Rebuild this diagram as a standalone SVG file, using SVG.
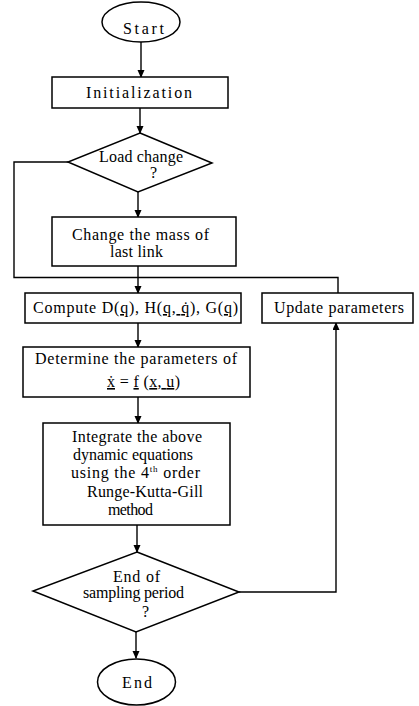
<svg xmlns="http://www.w3.org/2000/svg" width="419" height="706" viewBox="0 0 419 706">
<defs>
<marker id="ah" markerUnits="userSpaceOnUse" markerWidth="8" markerHeight="10" refX="7" refY="3.5" orient="auto">
<path d="M0,0 L8,3.5 L0,7 Z" fill="#000"/>
</marker>
<style>
.s{fill:#fff;stroke:#000;stroke-width:1.5}
.c{fill:none;stroke:#000;stroke-width:1.4}
text{font-family:"Liberation Serif","Times New Roman",serif;font-size:16px;fill:#000}
.u{text-decoration:underline}
</style>
</defs>
<rect width="419" height="706" fill="#fff"/>
<g id="connectors">
<path class="c" d="M141,42 V77" marker-end="url(#ah)"/>
<path class="c" d="M140,108 V133" marker-end="url(#ah)"/>
<path class="c" d="M138,192 V217" marker-end="url(#ah)"/>
<path class="c" d="M68,162 H14 V277.5 H138"/>
<path class="c" d="M338,293 V277.5 H138"/>
<path class="c" d="M138,266 V293" marker-end="url(#ah)"/>
<path class="c" d="M138,323 V347" marker-end="url(#ah)"/>
<path class="c" d="M138,397 V423" marker-end="url(#ah)"/>
<path class="c" d="M137,525 V552" marker-end="url(#ah)"/>
<path class="c" d="M136,632 V658" marker-end="url(#ah)"/>
<path class="c" d="M239,592 H336 V323" marker-end="url(#ah)"/>
</g>
<g id="start">
<ellipse class="s" cx="141" cy="22" rx="39" ry="20"/>
<text x="123" y="34" textLength="41" lengthAdjust="spacing" font-size="17">Start</text>
</g>
<g id="init">
<rect class="s" x="52" y="77" width="176" height="31"/>
<text x="86" y="98" textLength="106" lengthAdjust="spacing" font-size="17">Initialization</text>
</g>
<g id="load">
<polygon class="s" points="140,133 212,163 138,192 68,162"/>
<text x="99" y="162" textLength="84" lengthAdjust="spacing" font-size="15">Load change</text>
<text x="150" y="178" font-size="12">?</text>
</g>
<g id="change">
<rect class="s" x="52" y="217" width="184" height="49"/>
<text x="72" y="240" textLength="137" lengthAdjust="spacing">Change  the mass of</text>
<text x="110" y="257" textLength="53" lengthAdjust="spacing">last  link</text>
</g>
<g id="compute">
<rect class="s" x="25" y="293" width="216" height="30"/>
<text x="33" y="313" textLength="205" lengthAdjust="spacing">Compute D(<tspan class="u">q</tspan>), H(<tspan class="u">q, q̇</tspan>), G(<tspan class="u">q</tspan>)</text>
</g>
<g id="update">
<rect class="s" x="262" y="293" width="151" height="30"/>
<text x="274" y="313" textLength="130" lengthAdjust="spacing">Update parameters</text>
</g>
<g id="determine">
<rect class="s" x="23" y="347" width="227" height="50"/>
<text x="35" y="364" textLength="202" lengthAdjust="spacing">Determine the parameters of</text>
<text x="107" y="387" textLength="73" lengthAdjust="spacing"><tspan class="u">ẋ</tspan> = <tspan class="u">f</tspan> (<tspan class="u">x, u</tspan>)</text>
</g>
<g id="integrate">
<rect class="s" x="43" y="423" width="187" height="102"/>
<text x="72" y="442" textLength="130" lengthAdjust="spacing">Integrate the above</text>
<text x="73" y="460" textLength="120" lengthAdjust="spacing">dynamic equations</text>
<text x="71" y="478" textLength="129" lengthAdjust="spacing">using the 4<tspan font-size="9" dy="-6">th</tspan><tspan dy="6"> order</tspan></text>
<text x="87" y="497" textLength="116" lengthAdjust="spacing">Runge-Kutta-Gill</text>
<text x="108" y="515" textLength="45" lengthAdjust="spacing">method</text>
</g>
<g id="endsample">
<polygon class="s" points="137,552 239,592 136,632 33,591"/>
<text x="113" y="582" textLength="47" lengthAdjust="spacing" font-size="14">End of</text>
<text x="83" y="598" textLength="101" lengthAdjust="spacing" font-size="14">sampling period</text>
<text x="142" y="617" font-size="12">?</text>
</g>
<g id="end">
<ellipse class="s" cx="136.5" cy="682" rx="39" ry="23"/>
<text x="122" y="688" textLength="30" lengthAdjust="spacing" font-size="17">End</text>
</g>
</svg>
